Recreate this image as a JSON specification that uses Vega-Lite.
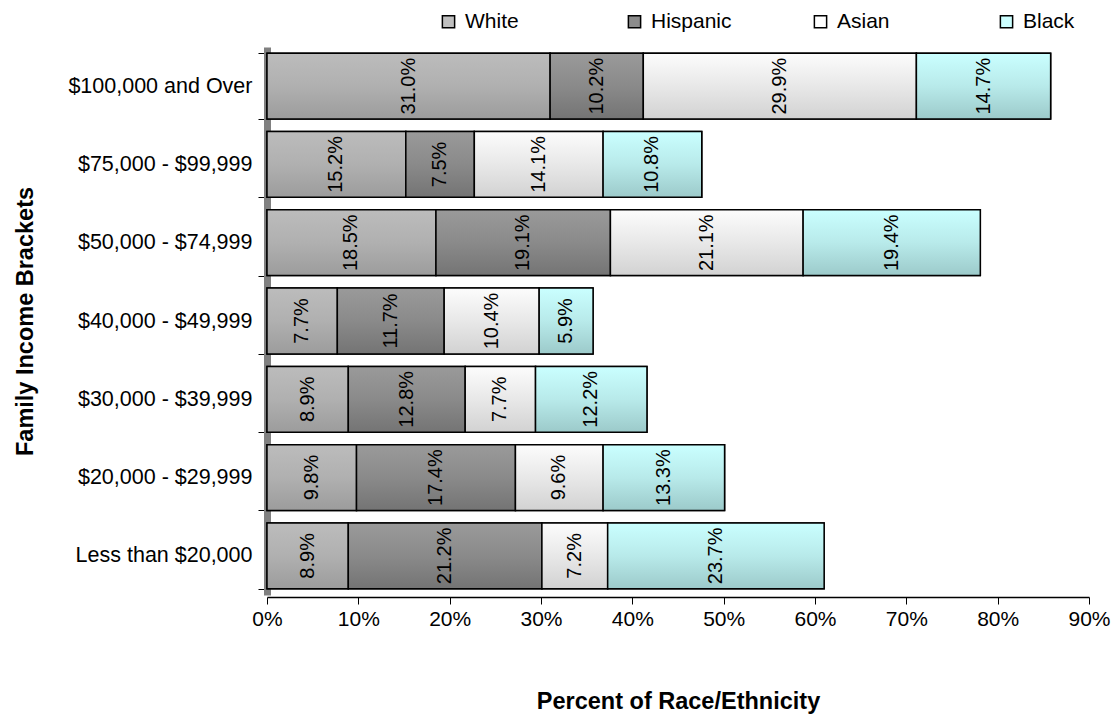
{
  "$schema": "https://vega.github.io/schema/vega-lite/v6.json",
  "width": 822,
  "height": 548,
  "autosize": "none",
  "padding": {"left": 267, "top": 47, "right": 28, "bottom": 120},
  "background": "white",
  "config": {
    "font": "Liberation Sans",
    "view": {"stroke": null}
  },
  "data": {
    "values": [
      {"bracket": "$100,000 and Over", "race": "White", "order": 1, "pct": 31.0},
      {"bracket": "$100,000 and Over", "race": "Hispanic", "order": 2, "pct": 10.2},
      {"bracket": "$100,000 and Over", "race": "Asian", "order": 3, "pct": 29.9},
      {"bracket": "$100,000 and Over", "race": "Black", "order": 4, "pct": 14.7},
      {"bracket": "$75,000 - $99,999", "race": "White", "order": 1, "pct": 15.2},
      {"bracket": "$75,000 - $99,999", "race": "Hispanic", "order": 2, "pct": 7.5},
      {"bracket": "$75,000 - $99,999", "race": "Asian", "order": 3, "pct": 14.1},
      {"bracket": "$75,000 - $99,999", "race": "Black", "order": 4, "pct": 10.8},
      {"bracket": "$50,000 - $74,999", "race": "White", "order": 1, "pct": 18.5},
      {"bracket": "$50,000 - $74,999", "race": "Hispanic", "order": 2, "pct": 19.1},
      {"bracket": "$50,000 - $74,999", "race": "Asian", "order": 3, "pct": 21.1},
      {"bracket": "$50,000 - $74,999", "race": "Black", "order": 4, "pct": 19.4},
      {"bracket": "$40,000 - $49,999", "race": "White", "order": 1, "pct": 7.7},
      {"bracket": "$40,000 - $49,999", "race": "Hispanic", "order": 2, "pct": 11.7},
      {"bracket": "$40,000 - $49,999", "race": "Asian", "order": 3, "pct": 10.4},
      {"bracket": "$40,000 - $49,999", "race": "Black", "order": 4, "pct": 5.9},
      {"bracket": "$30,000 - $39,999", "race": "White", "order": 1, "pct": 8.9},
      {"bracket": "$30,000 - $39,999", "race": "Hispanic", "order": 2, "pct": 12.8},
      {"bracket": "$30,000 - $39,999", "race": "Asian", "order": 3, "pct": 7.7},
      {"bracket": "$30,000 - $39,999", "race": "Black", "order": 4, "pct": 12.2},
      {"bracket": "$20,000 - $29,999", "race": "White", "order": 1, "pct": 9.8},
      {"bracket": "$20,000 - $29,999", "race": "Hispanic", "order": 2, "pct": 17.4},
      {"bracket": "$20,000 - $29,999", "race": "Asian", "order": 3, "pct": 9.6},
      {"bracket": "$20,000 - $29,999", "race": "Black", "order": 4, "pct": 13.3},
      {"bracket": "Less than $20,000", "race": "White", "order": 1, "pct": 8.9},
      {"bracket": "Less than $20,000", "race": "Hispanic", "order": 2, "pct": 21.2},
      {"bracket": "Less than $20,000", "race": "Asian", "order": 3, "pct": 7.2},
      {"bracket": "Less than $20,000", "race": "Black", "order": 4, "pct": 23.7}
    ]
  },
  "transform": [
    {"stack": "pct", "groupby": ["bracket"], "sort": [{"field": "order"}], "as": ["x0", "x1"]},
    {"calculate": "(datum.x0 + datum.x1) / 2", "as": "xmid"},
    {"calculate": "format(datum.pct, '.1f') + '%'", "as": "label"}
  ],
  "encoding": {
    "y": {
      "field": "bracket",
      "type": "nominal",
      "sort": ["$100,000 and Over", "$75,000 - $99,999", "$50,000 - $74,999", "$40,000 - $49,999", "$30,000 - $39,999", "$20,000 - $29,999", "Less than $20,000"],
      "scale": {"paddingInner": 0.16, "paddingOuter": 0.08},
      "axis": {
        "title": "Family Income Brackets",
        "titleFont": "Liberation Sans",
        "titleFontSize": 23.5,
        "titleFontWeight": "bold",
        "titleColor": "black",
        "titlePadding": 30,
        "labelFontSize": 21.5,
        "labelColor": "black",
        "labelPadding": 6,
        "labelLimit": 400,
        "tickBand": "extent",
        "tickColor": "black",
        "tickSize": 9,
        "domainColor": "#808080",
        "domainWidth": 7
      }
    },
    "x": {
      "field": "x0",
      "type": "quantitative",
      "scale": {"domain": [0, 90], "nice": false},
      "axis": {
        "title": "Percent of Race/Ethnicity",
        "titleFontSize": 23.5,
        "titleFontWeight": "bold",
        "titleColor": "black",
        "titlePadding": 60,
        "values": [0, 10, 20, 30, 40, 50, 60, 70, 80, 90],
        "labelExpr": "datum.value + '%'",
        "labelFlush": false,
        "labelFontSize": 21,
        "labelColor": "black",
        "labelPadding": 4,
        "grid": false,
        "tickColor": "black",
        "tickSize": 7,
        "domainColor": "black",
        "domainWidth": 1.5,
        "offset": 2
      }
    },
    "x2": {"field": "x1"}
  },
  "layer": [
    {
      "mark": {"type": "bar", "stroke": "black", "strokeWidth": 1.5},
      "encoding": {
        "color": {
          "field": "race",
          "type": "nominal",
          "sort": ["White", "Hispanic", "Asian", "Black"],
          "scale": {"domain": ["White", "Hispanic", "Asian", "Black"], "range": ["#c0c0c0", "#8c8c8c", "#ffffff", "#ccffff"]},
          "legend": {
            "title": null,
            "orient": "none",
            "legendX": 171,
            "legendY": -36,
            "direction": "horizontal",
            "columns": 4,
            "gridAlign": "all",
            "columnPadding": 78,
            "symbolType": "square",
            "symbolSize": 150,
            "symbolStrokeColor": "black",
            "symbolStrokeWidth": 1.5,
            "symbolOpacity": 1,
            "labelFontSize": 21,
            "labelColor": "black",
            "labelOffset": 6
          }
        }
      }
    },
    {
      "transform": [{"filter": "datum.race === 'White'"}],
      "mark": {"type": "bar", "stroke": "black", "strokeWidth": 1.5,
        "fill": {"gradient": "linear", "x1": 0, "y1": 0, "x2": 0, "y2": 1,
          "stops": [{"offset": 0, "color": "#bcbcbc"}, {"offset": 0.5, "color": "#b0b0b0"}, {"offset": 1, "color": "#9c9c9c"}]}}
    },
    {
      "transform": [{"filter": "datum.race === 'Hispanic'"}],
      "mark": {"type": "bar", "stroke": "black", "strokeWidth": 1.5,
        "fill": {"gradient": "linear", "x1": 0, "y1": 0, "x2": 0, "y2": 1,
          "stops": [{"offset": 0, "color": "#9a9a9a"}, {"offset": 0.5, "color": "#8a8a8a"}, {"offset": 1, "color": "#747474"}]}}
    },
    {
      "transform": [{"filter": "datum.race === 'Asian'"}],
      "mark": {"type": "bar", "stroke": "black", "strokeWidth": 1.5,
        "fill": {"gradient": "linear", "x1": 0, "y1": 0, "x2": 0, "y2": 1,
          "stops": [{"offset": 0, "color": "#fcfcfc"}, {"offset": 0.5, "color": "#e8e8e8"}, {"offset": 1, "color": "#d2d2d2"}]}}
    },
    {
      "transform": [{"filter": "datum.race === 'Black'"}],
      "mark": {"type": "bar", "stroke": "black", "strokeWidth": 1.5,
        "fill": {"gradient": "linear", "x1": 0, "y1": 0, "x2": 0, "y2": 1,
          "stops": [{"offset": 0, "color": "#caffff"}, {"offset": 0.5, "color": "#b8eaea"}, {"offset": 1, "color": "#9ccaca"}]}}
    },
    {
      "mark": {"type": "text", "angle": 270, "fontSize": 20, "color": "black", "align": "center", "baseline": "middle"},
      "encoding": {
        "x": {"field": "xmid", "type": "quantitative"},
        "x2": null,
        "text": {"field": "label", "type": "nominal"}
      }
    }
  ]
}
